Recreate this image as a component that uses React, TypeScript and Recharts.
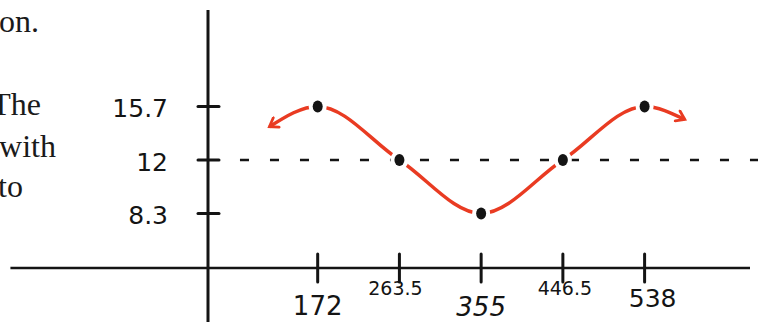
import { ComposedChart, Line, Scatter, XAxis, YAxis, ReferenceLine } from 'recharts';

const xTicks = [172, 263.5, 355, 446.5, 538];
const xTickLabels = ['172', '263.5', '355', '446.5', '538'];
const pointValues = [15.7, 12, 8.3, 12, 15.7];
const yTicks = [8.3, 12, 15.7];
const yTickLabels = ['8.3', '12', '15.7'];
// where the red curve trails off into its arrowheads
const arrowX = [118, 583];
const arrowY = [14.3, 14.8];
const midline = 12;
// cut-off words of the textbook page on the left
const sideWords = ['on.', 'The', 'with', 'to'];

const X_MIN = 49.2;
const X_MAX = 656;
const Y_MIN = 4.53;
const Y_MAX = 22.37;

const RED = '#e93b22';
const INK = '#141414';
const HAND = '"DejaVu Sans", sans-serif';

const dots = xTicks.map((x, i) => ({ x, y: pointValues[i] }));
const curve = [
  { x: arrowX[0], y: arrowY[0] },
  ...dots,
  { x: arrowX[1], y: arrowY[1] },
];

// label placement for the hand-written x labels (dx, dy from axis, font size, italic)
const xLabelStyle = [
  { dx: 0, dy: 38, size: 26, italic: false },
  { dx: -4, dy: 20, size: 19, italic: false },
  { dx: 0, dy: 39, size: 26, italic: true },
  { dx: 2, dy: 20, size: 19, italic: false },
  { dx: 8, dy: 30, size: 25, italic: false },
];

const wordPos = [
  { right: 39, top: 5 },
  { right: 41, top: 88 },
  { right: 56, top: 130 },
  { right: 23, top: 170 },
];

function XTick(props: any) {
  const { x, y, payload } = props;
  const i = xTicks.indexOf(payload.value);
  const s = xLabelStyle[i];
  return (
    <g>
      <line x1={x} x2={x} y1={y - 14} y2={y + 14} stroke={INK} strokeWidth={3} strokeLinecap="round" />
      <text
        x={x + s.dx}
        y={y + s.dy}
        dy="0.36em"
        textAnchor="middle"
        fontFamily={HAND}
        fontSize={s.size}
        fontStyle={s.italic ? 'italic' : 'normal'}
        fill={INK}
      >
        {xTickLabels[i]}
      </text>
    </g>
  );
}

function YTick(props: any) {
  const { x, y, payload } = props;
  const i = yTicks.indexOf(payload.value);
  return (
    <g>
      <line x1={x - 10} x2={x + 11} y1={y} y2={y} stroke={INK} strokeWidth={3} strokeLinecap="round" />
      <text x={x - 40} y={y + 2} dy="0.36em" textAnchor="end" fontFamily={HAND} fontSize={25} fill={INK}>
        {yTickLabels[i]}
      </text>
    </g>
  );
}

function Dot(props: any) {
  return (
    <g>
      <ellipse cx={props.cx} cy={props.cy} rx={9} ry={10} fill="#fff" />
      <ellipse cx={props.cx} cy={props.cy} rx={5} ry={6} fill={INK} />
    </g>
  );
}

export default function App() {
  return (
    <div style={{ position: 'absolute', left: 0, top: 0, width: 758, height: 322, background: '#fff' }}>
      <svg width={0} height={0} style={{ position: 'absolute' }}>
        <defs>
          <marker
            id="arrowHead"
            viewBox="0 0 14 14"
            refX={11}
            refY={7}
            markerWidth={14}
            markerHeight={14}
            markerUnits="userSpaceOnUse"
            orient="auto-start-reverse"
          >
            <path d="M3,1.5 L11,7 L3,12.5" fill="none" stroke={RED} strokeWidth={2.8} strokeLinecap="round" />
          </marker>
        </defs>
      </svg>
      {sideWords.map((w, i) => (
        <div
          key={w}
          style={{
            position: 'absolute',
            right: 758 - wordPos[i].right,
            top: wordPos[i].top,
            fontFamily: '"Liberation Serif", serif',
            fontSize: 32,
            lineHeight: '32px',
            whiteSpace: 'nowrap',
            color: '#1a1a1a',
          }}
        >
          {w}
        </div>
      ))}
      <ComposedChart width={758} height={322} margin={{ top: 10, right: 8, bottom: 0, left: 0 }}>
        <XAxis
          dataKey="x"
          type="number"
          domain={[X_MIN, X_MAX]}
          allowDataOverflow
          ticks={xTicks}
          interval={0}
          tick={<XTick />}
          tickLine={false}
          axisLine={false}
          tickSize={0}
          tickMargin={0}
          height={54}
        />
        <YAxis
          dataKey="y"
          type="number"
          domain={[Y_MIN, Y_MAX]}
          allowDataOverflow
          ticks={yTicks}
          interval={0}
          tick={<YTick />}
          tickLine={false}
          axisLine={false}
          tickSize={0}
          tickMargin={0}
          width={208}
        />
        <ReferenceLine
          segment={[{ x: -172, y: Y_MIN }, { x: X_MAX, y: Y_MIN }]}
          stroke={INK}
          strokeWidth={2.5}
          ifOverflow="visible"
        />
        <ReferenceLine
          segment={[{ x: X_MIN, y: 0.5 }, { x: X_MIN, y: Y_MAX }]}
          stroke={INK}
          strokeWidth={3}
          ifOverflow="visible"
        />
        <ReferenceLine
          segment={[{ x: 85, y: midline }, { x: 680, y: midline }]}
          stroke={INK}
          strokeWidth={2.5}
          strokeDasharray="9 21"
          ifOverflow="visible"
        />
        <Line
          data={curve}
          dataKey="y"
          type="monotone"
          stroke={RED}
          strokeWidth={3.5}
          dot={false}
          activeDot={false}
          markerStart="url(#arrowHead)"
          markerEnd="url(#arrowHead)"
          isAnimationActive={false}
        />
        <Scatter data={dots} dataKey="y" fill={INK} shape={<Dot />} isAnimationActive={false} />
      </ComposedChart>
    </div>
  );
}
